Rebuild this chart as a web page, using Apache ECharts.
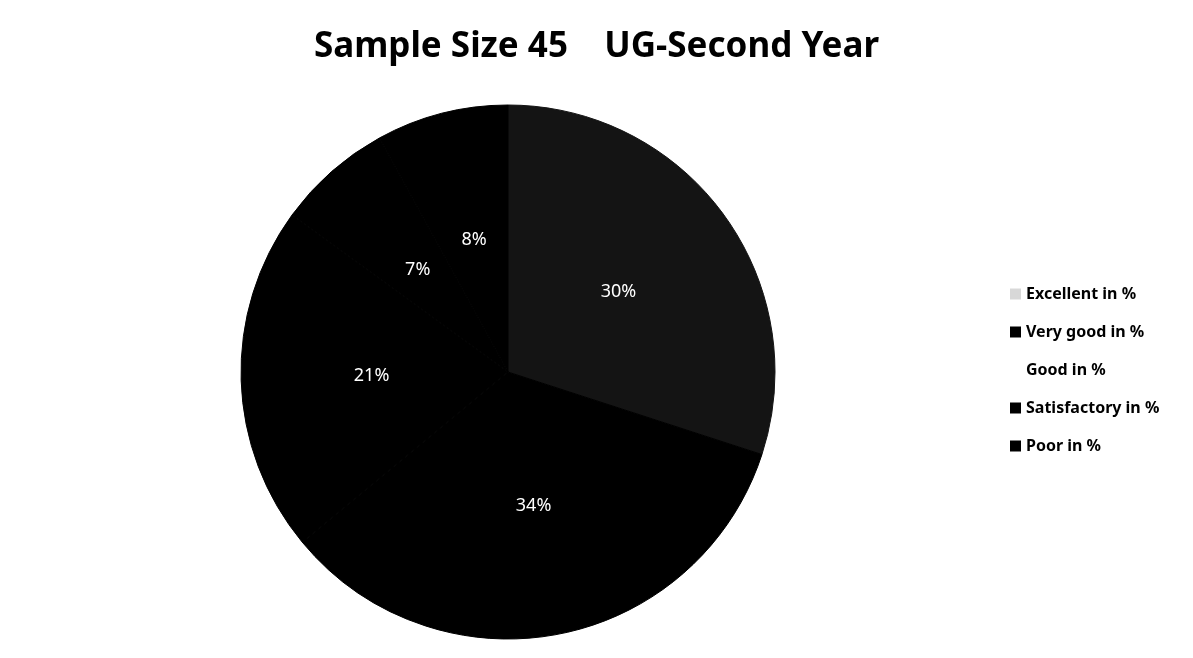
<!DOCTYPE html>
<html>
<head>
<meta charset="utf-8">
<script src="https://cdn.jsdelivr.net/npm/echarts@6/dist/echarts.min.js"></script>
<style>
  html, body { margin: 0; padding: 0; background: #fff; }
  #main { width: 1193px; height: 658px; }
</style>
</head>
<body>
<div id="main"></div>
<script>
const categories = ['Excellent in %', 'Very good in %', 'Good in %', 'Satisfactory in %', 'Poor in %'];
const values = [30, 34, 21, 7, 8];
const sliceColors = ['#141414', '#000000', '#000000', '#000000', '#000000'];
const legendColors = ['#d8d8d8', '#000000', '#ffffff', '#000000', '#000000'];

const chart = echarts.init(document.getElementById('main'));

const option = {
  backgroundColor: '#ffffff',
  title: {
    text: 'Sample Size 45    UG-Second Year',
    left: 'center',
    top: 25,
    textStyle: {
      fontFamily: 'Noto Sans',
      fontWeight: 'bold',
      fontSize: 35,
      color: '#000'
    }
  },
  legend: {
    orient: 'vertical',
    left: 1005,
    top: 281,
    itemGap: 22,
    itemWidth: 11,
    itemHeight: 11,
    icon: 'rect',
    textStyle: {
      fontFamily: 'Noto Sans',
      fontWeight: 'bold',
      fontSize: 16,
      color: '#000'
    },
    data: categories.map((c, i) => ({
      name: c,
      itemStyle: { color: legendColors[i], borderWidth: 0 }
    }))
  },
  series: [{
    type: 'pie',
    center: [508, 372],
    radius: 267,
    startAngle: 90,
    clockwise: true,
    avoidLabelOverlap: false,
    label: {
      show: true,
      position: 'inside',
      formatter: '{c}%',
      color: '#fff',
      fontFamily: 'Noto Sans',
      fontSize: 18
    },
    labelLine: { show: false },
    emphasis: { disabled: true },
    data: categories.map((c, i) => ({
      name: c,
      value: values[i],
      itemStyle: { color: sliceColors[i], borderColor: sliceColors[i], borderWidth: 1 }
    }))
  }]
};

chart.setOption(option);
</script>
</body>
</html>
